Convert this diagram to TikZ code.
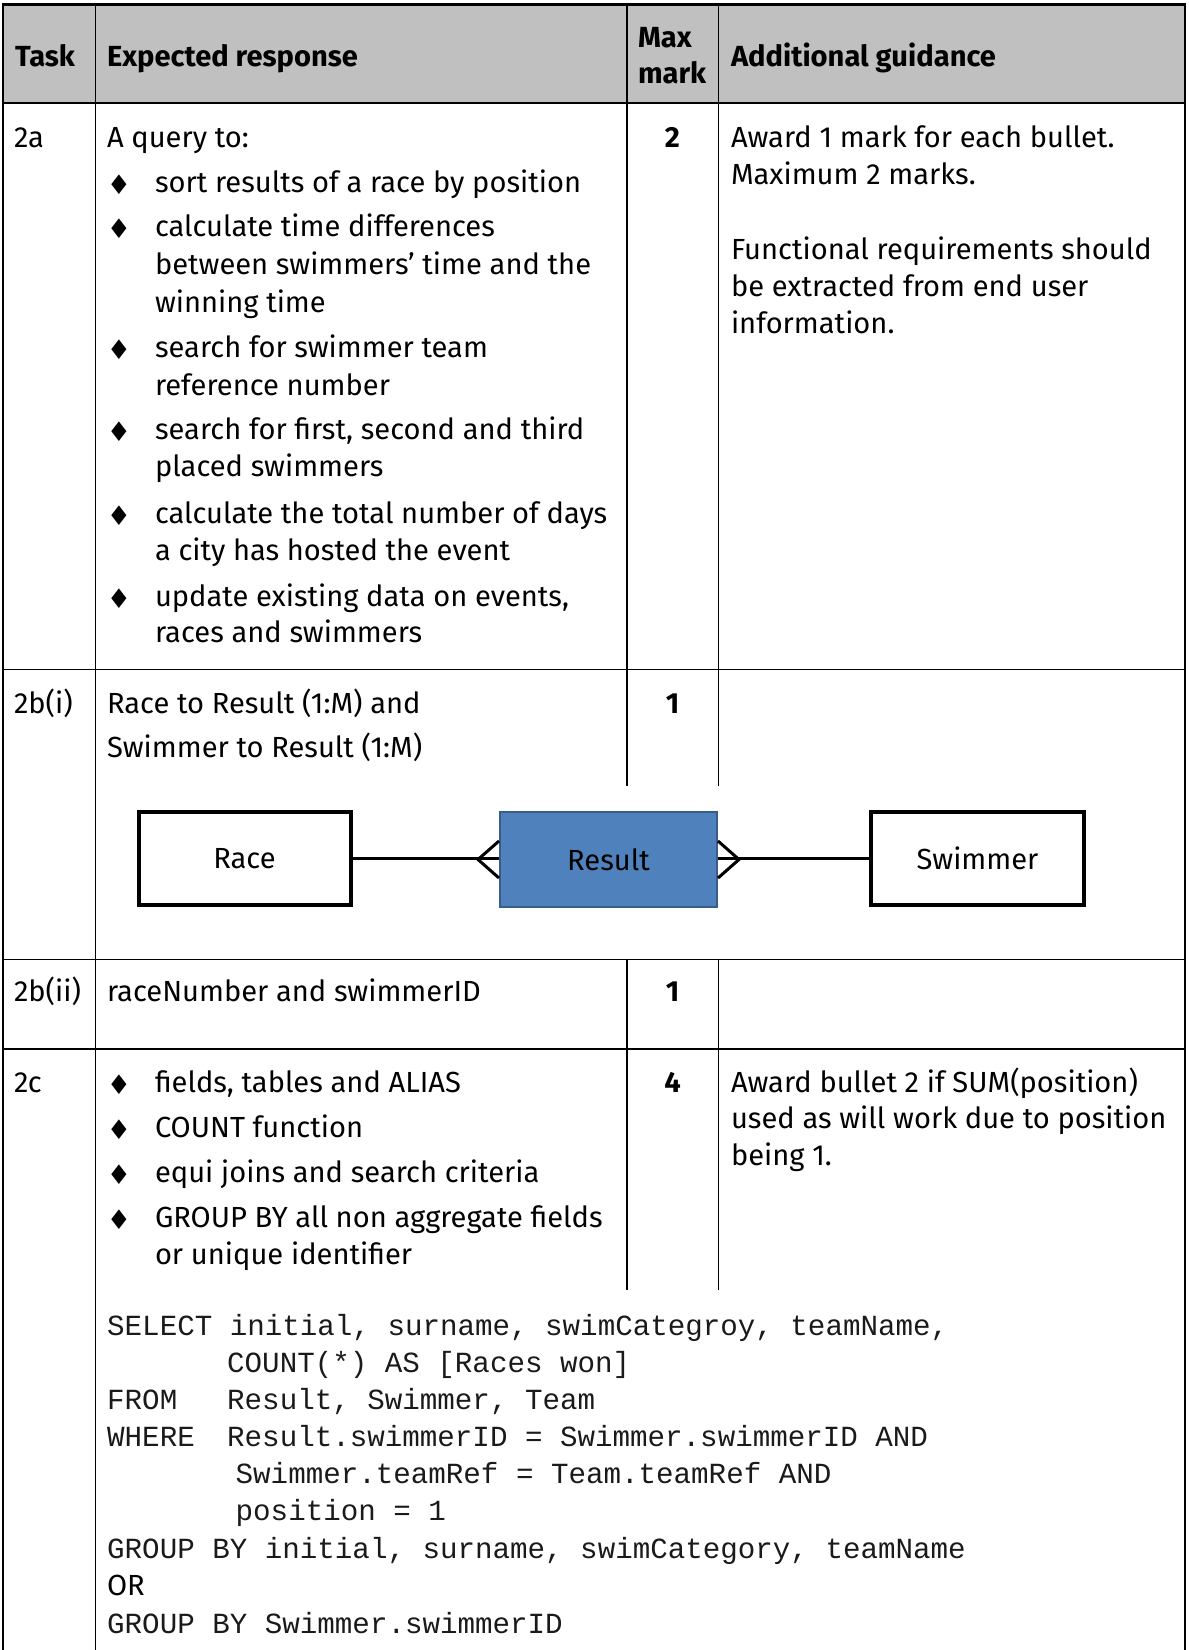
\documentclass[tikz,border=0pt]{standalone}
\usepackage{fontspec}
\setmainfont{Fira Sans}
\setmonofont{Liberation Mono}
\newfontfamily\symfont{DejaVu Sans}
\newcommand\bodyfont{\fontsize{29.1pt}{37.5pt}\selectfont}
\newcommand\codefont{\fontsize{29.2pt}{37.5pt}\selectfont\ttfamily}
\newcommand\bulfont{\fontsize{27pt}{30pt}\selectfont\symfont}
\definecolor{hdfill}{HTML}{C0C0C0}
\definecolor{resfill}{HTML}{4F81BD}
\definecolor{resdraw}{HTML}{385D8A}
\definecolor{codecol}{HTML}{1A1A1A}
\tikzset{
  txt/.style={anchor=base west, inner sep=0pt, outer sep=0pt, font=\bodyfont},
  hd/.style={txt, font=\bodyfont\bfseries},
  mk/.style={anchor=base, inner sep=0pt, font=\bodyfont\bfseries},
  code/.style={anchor=base west, inner sep=0pt, font=\codefont, text=codecol},
  bul/.style={anchor=base, inner sep=0pt, font=\bulfont},
  rule/.style={line width=1.6pt},
  outer/.style={line width=2.4pt},
  ent/.style={draw=black, line width=4pt, inner sep=0pt, font=\bodyfont, minimum height=93pt},
  link/.style={line width=3pt}
}
\begin{document}
\begin{tikzpicture}[x=1pt,y=-1pt]
\useasboundingbox (0,0) rectangle (1189,1650);
% header background
\fill[hdfill] (3,4.5) rectangle (1185,103);
% table rules
\draw[outer] (3,4.5) -- (1185,4.5);
\draw[outer] (3,3.3) -- (3,1650);
\draw[outer] (1185,3.3) -- (1185,1650);
\draw[rule] (95.5,4.5) -- (95.5,1650);
\draw[rule] (627,4.5) -- (627,786);
\draw[rule] (718.5,4.5) -- (718.5,786);
\draw[rule] (627,960) -- (627,1290);
\draw[rule] (718.5,960) -- (718.5,1290);
\draw[outer] (3,103) -- (1185,103);
\draw[rule] (3,669.5) -- (1185,669.5);
\draw[rule] (3,959.5) -- (1185,959.5);
\draw[rule] (3,1049) -- (1185,1049);

% header
\node[hd] (hTask) at (15,66) {Task};
\node[hd] (hExp) at (107,66) {Expected response};
\node[hd] (hMax) at (638,47) {Max};
\node[hd] (hMark) at (638,83) {mark};
\node[hd] (hAdd) at (731,66) {Additional guidance};

% row 2a
\node[txt] (t2a) at (14,147) {2a};
\node[txt] (q0) at (107,147) {A query to:};
\node[bul] (b1) at (119,194) {♦};
\node[txt] (q1) at (155,192) {sort results of a race by position};
\node[bul] (b2) at (119,238) {♦};
\node[txt] (q2a) at (155,236) {calculate time differences};
\node[txt] (q2b) at (155,274) {between swimmers’ time and the};
\node[txt] (q2c) at (155,312) {winning time};
\node[bul] (b3) at (119,359) {♦};
\node[txt] (q3a) at (155,357) {search for swimmer team};
\node[txt] (q3b) at (155,395) {reference number};
\node[bul] (b4) at (119,441) {♦};
\node[txt] (q4a) at (155,439) {search for first, second and third};
\node[txt] (q4b) at (155,476) {placed swimmers};
\node[bul] (b5) at (119,525) {♦};
\node[txt] (q5a) at (155,523) {calculate the total number of days};
\node[txt] (q5b) at (155,560) {a city has hosted the event};
\node[bul] (b6) at (119,608) {♦};
\node[txt] (q6a) at (155,606) {update existing data on events,};
\node[txt] (q6b) at (155,642) {races and swimmers};
\node[mk] (m2a) at (672.5,147) {2};
\node[txt] (g1) at (731,147) {Award 1 mark for each bullet.};
\node[txt] (g2) at (731,184) {Maximum 2 marks.};
\node[txt] (g3) at (731,259) {Functional requirements should};
\node[txt] (g4) at (731,296) {be extracted from end user};
\node[txt] (g5) at (731,333) {information.};

% row 2b(i)
\node[txt] (t2bi) at (14,713) {2b(i)};
\node[txt] (r1) at (107,713) {Race to Result (1:M) and};
\node[txt] (r2) at (107,757) {Swimmer to Result (1:M)};
\node[mk] (m2bi) at (672.5,713) {1};

% ER diagram
\node[ent, minimum width=212pt] (race) at (244.5,858.5) {Race};
\node[ent, fill=resfill, draw=resdraw, line width=2pt, minimum width=217pt, minimum height=95pt] (result) at (608.5,859.5) {Result};
\node[ent, minimum width=213pt] (swimmer) at (977.5,858.5) {Swimmer};
\coordinate (lapex) at ([xshift=-21pt]result.west);
\coordinate (rapex) at ([xshift=21pt]result.east);
\draw[link] (race.east) -- (race.east -| result.west);
\draw[link] ([yshift=18.5pt]result.west) -- (lapex) -- ([yshift=-18.5pt]result.west);
\draw[link] (swimmer.west -| result.east) -- (swimmer.west);
\draw[link] ([yshift=18.5pt]result.east) -- (rapex) -- ([yshift=-18.5pt]result.east);

% row 2b(ii)
\node[txt] (t2bii) at (14,1001) {2b(ii)};
\node[txt] (k1) at (107,1001) {raceNumber and swimmerID};
\node[mk] (m2bii) at (672.5,1001) {1};

% row 2c
\node[txt] (t2c) at (14,1092) {2c};
\node[bul] (c1b) at (119,1094) {♦};
\node[txt] (c1) at (155,1092) {fields, tables and ALIAS};
\node[bul] (c2b) at (119,1139) {♦};
\node[txt] (c2) at (155,1137) {COUNT function};
\node[bul] (c3b) at (119,1184) {♦};
\node[txt] (c3) at (155,1182) {equi joins and search criteria};
\node[bul] (c4b) at (119,1229) {♦};
\node[txt] (c4a) at (155,1227) {GROUP BY all non aggregate fields};
\node[txt] (c4c) at (155,1264) {or unique identifier};
\node[mk] (m2c) at (672.5,1092) {4};
\node[txt] (a1) at (731,1092) {Award bullet 2 if SUM(position)};
\node[txt] (a2) at (731,1128.5) {used as will work due to position};
\node[txt] (a3) at (731,1165) {being 1.};

% SQL
\node[code] (s1) at (107,1335) {SELECT initial, surname, swimCategroy, teamName,};
\node[code] (s2) at (227,1372.3) {COUNT(*) AS [Races won]};
\node[code] (s3k) at (107,1409.3) {FROM};
\node[code] (s3) at (227,1409.3) {Result, Swimmer, Team};
\node[code] (s4k) at (107,1446) {WHERE};
\node[code] (s4) at (227,1446) {Result.swimmerID = Swimmer.swimmerID AND};
\node[code] (s5) at (235.5,1483.3) {Swimmer.teamRef = Team.teamRef AND};
\node[code] (s6) at (235.5,1520.7) {position = 1};
\node[code] (s7) at (107,1558.3) {GROUP BY initial, surname, swimCategory, teamName};
\node[txt] (sor) at (107,1595) {OR};
\node[code] (s8) at (107,1633.3) {GROUP BY Swimmer.swimmerID};
\end{tikzpicture}
\end{document}
